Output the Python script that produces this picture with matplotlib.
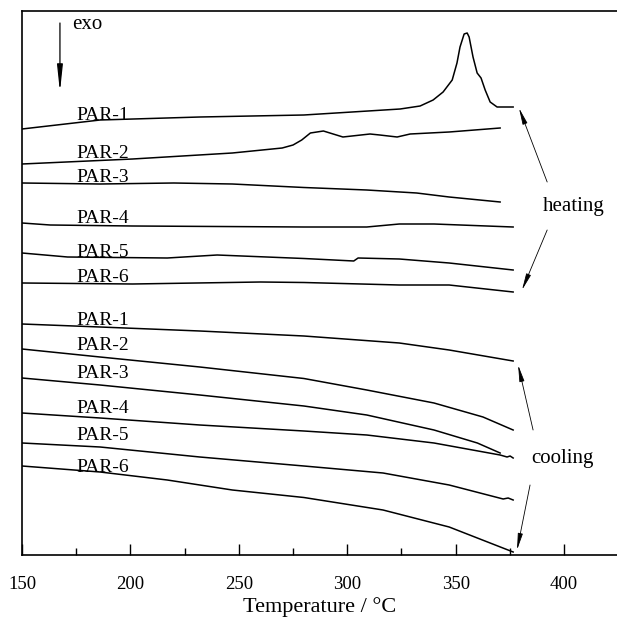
import numpy as np
import matplotlib
matplotlib.use("Agg")
import matplotlib.pyplot as plt

plt.rcParams['font.family'] = ['Liberation Serif', 'DejaVu Serif']

# DSC traces: temperature (°C) and heat flow (a.u., offset)
heat_t = {
    "PAR-1": [150, 186, 232, 280, 324.4, 333.6, 339.6, 344.2, 348.4, 350.6, 352.0, 353.9, 355.3, 356.2,
              358.0, 359.9, 361.7, 363.6, 365.9, 369.1, 376.5],
    "PAR-2": [150, 201, 247, 270, 275, 279, 283, 289, 298, 310.5, 315, 323, 329, 347, 370.5],
    "PAR-3": [150, 186, 220, 247, 280, 309, 332, 347, 370.5],
    "PAR-4": [150, 163, 201, 280, 309, 324, 340, 376.5],
    "PAR-5": [150, 171, 217, 240, 280, 303, 305, 324, 347, 376.5],
    "PAR-6": [150, 201, 260, 280, 324, 347, 376.5],
}
heat_y = {
    "PAR-1": [426, 435, 438, 440, 446, 449, 455, 463, 475, 492, 508, 521, 522, 518,
              498, 482, 477, 465, 453, 448, 448],
    "PAR-2": [391, 396, 402, 407, 410, 415, 422, 424, 418, 421, 420, 418, 421, 423, 427],
    "PAR-3": [372, 371, 372, 371, 367.5, 365, 362, 358, 353],
    "PAR-4": [332, 330, 329, 328, 328, 331, 331, 328],
    "PAR-5": [302, 298, 297, 300, 296.5, 294, 297, 296, 292, 285],
    "PAR-6": [272, 271, 273, 272.5, 270, 270, 263],
}
cool_t = {
    "PAR-1": [150, 186, 232, 280, 324, 347, 376.5],
    "PAR-2": [150, 186, 232, 280, 309, 340, 362.6, 376.5],
    "PAR-3": [150, 186, 232, 280, 309, 340, 360, 370.5],
    "PAR-4": [150, 186, 232, 280, 309, 340, 370.5, 373.7, 375.1, 376.5],
    "PAR-5": [150, 186, 232, 280, 316.5, 347, 371.9, 374.2, 376.5],
    "PAR-6": [150, 186, 217, 247, 280, 316.5, 347, 376.5],
}
cool_y = {
    "PAR-1": [231, 228, 224, 219, 212, 205, 194],
    "PAR-2": [206, 198, 188, 176.5, 165, 152, 138, 125],
    "PAR-3": [177, 170, 160, 149, 140, 125, 112, 102],
    "PAR-4": [142, 137, 130, 124, 120, 112, 100, 98, 99, 97],
    "PAR-5": [112, 108, 98, 89, 82, 70, 56, 57, 55],
    "PAR-6": [89, 83, 75, 65, 57.5, 45, 28, 3],
}
# label baselines
heat_label_y = [435, 397, 373, 332, 298, 273]
cool_label_y = [230, 205, 177, 142, 115, 83]
names = ["PAR-1", "PAR-2", "PAR-3", "PAR-4", "PAR-5", "PAR-6"]

fig = plt.figure(figsize=(6.17, 6.18), dpi=100)
ax = fig.add_axes([22 / 617, 63 / 618, 595 / 617, 544 / 618])

for n in names:
    ax.plot(heat_t[n], heat_y[n], color="black", lw=1.1)
    ax.plot(cool_t[n], cool_y[n], color="black", lw=1.1)

for n, yh, yc in zip(names, heat_label_y, cool_label_y):
    ax.text(175, yh, n, fontsize=14, va="baseline", ha="left")
    ax.text(175, yc, n, fontsize=14, va="baseline", ha="left")

# exo arrow
ax.annotate("", xy=(167.5, 463), xytext=(167.5, 532),
            arrowprops=dict(arrowstyle="-|>,head_length=1.6,head_width=0.17",
                            mutation_scale=10, shrinkA=0, shrinkB=0,
                            color="black", lw=0.9))
ax.text(173, 540, "exo", fontsize=15, va="top", ha="left")

ax.text(404.6, 348, "heating", fontsize=15, ha="center", va="center")
ax.text(399.1, 97, "cooling", fontsize=15, ha="center", va="center")
arw = dict(arrowstyle="-|>,head_length=1.0,head_width=0.15", mutation_scale=10,
           shrinkA=0, shrinkB=0, color="black", lw=0.6)
ax.annotate("", xy=(379.2, 447), xytext=(392.2, 373), arrowprops=arw)
ax.annotate("", xy=(380.6, 265), xytext=(392.2, 325), arrowprops=arw)
ax.annotate("", xy=(378.8, 190), xytext=(385.7, 125), arrowprops=arw)
ax.annotate("", xy=(378.3, 5), xytext=(384.3, 70), arrowprops=arw)

ax.set_xlim(150, 424.4)
ax.set_ylim(0, 544)
ax.set_xticks([150, 200, 250, 300, 350, 400])
ax.set_xticks([175, 225, 275, 325, 375], minor=True)
ax.set_yticks([])
ax.tick_params(axis="x", which="major", direction="in", length=8, width=1.0, labelsize=13.5, pad=15)
ax.tick_params(axis="x", which="minor", direction="in", length=5, width=1.0)
ax.spines["right"].set_visible(False)
for s in ["left", "bottom", "top"]:
    ax.spines[s].set_linewidth(1.2)
ax.set_xlabel("Temperature / °C", fontsize=16, labelpad=3)

fig.savefig("out.png", dpi=100)
